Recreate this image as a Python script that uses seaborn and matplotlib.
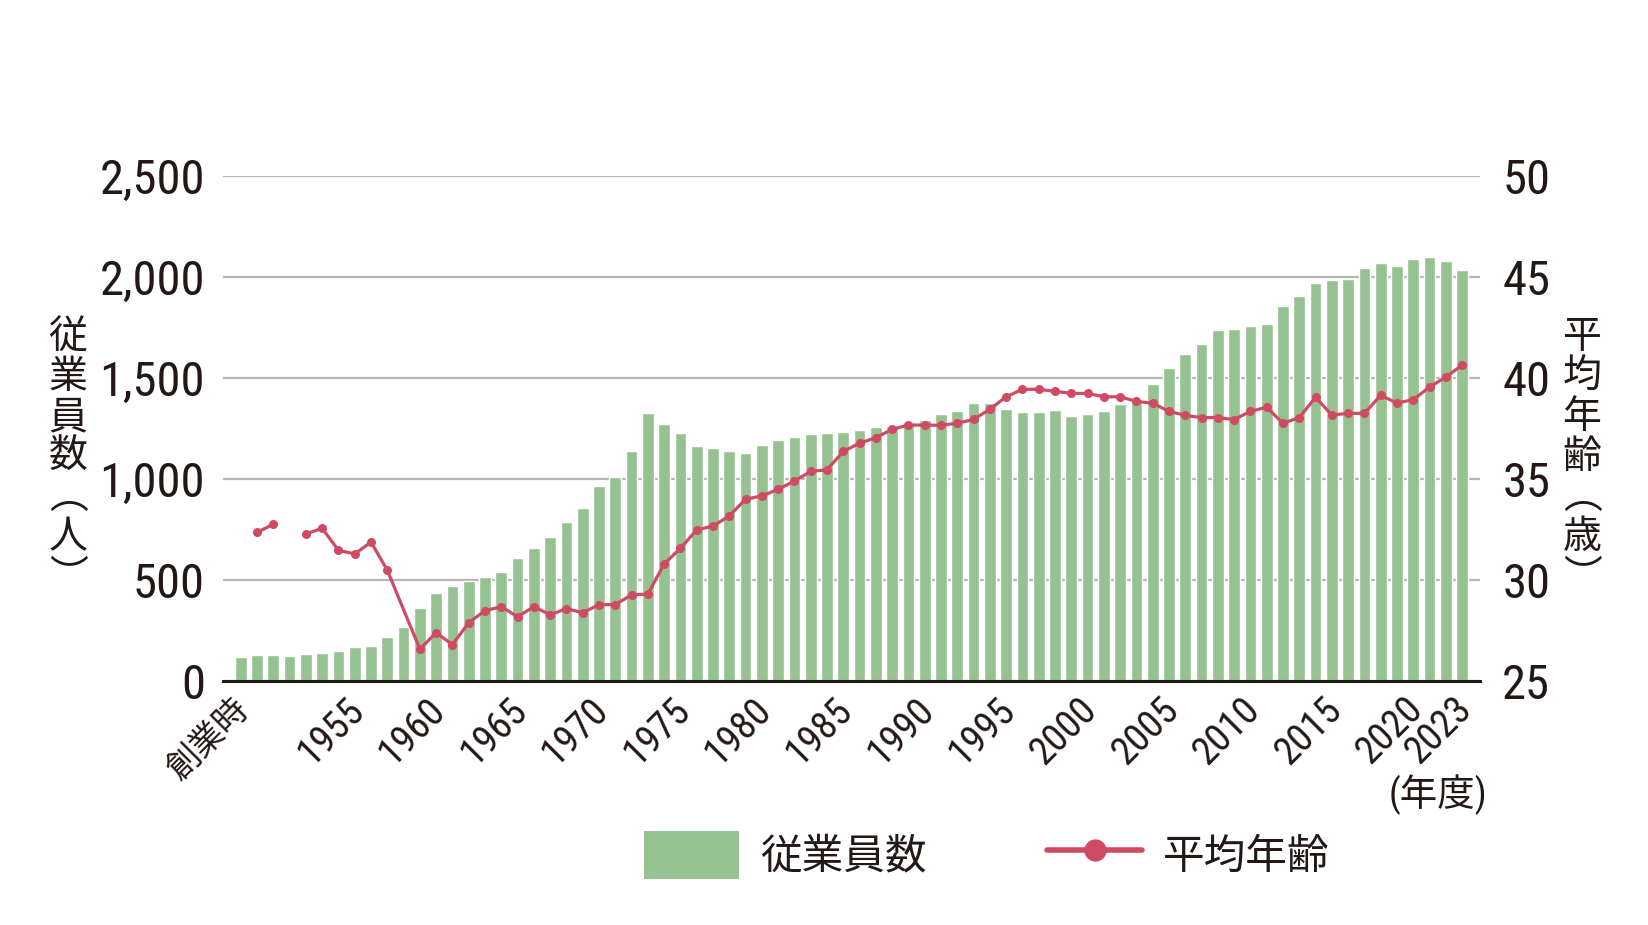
import numpy as np
import pandas as pd
import matplotlib
matplotlib.use("Agg")
import matplotlib.pyplot as plt
import seaborn as sns
from matplotlib import font_manager
from matplotlib.patches import Patch
from matplotlib.lines import Line2D
from matplotlib.ticker import FuncFormatter
from matplotlib.transforms import ScaledTranslation

# --- data ---
categories = ['創業時'] + [str(y) for y in range(1949, 2024)]

employees = [
    120,                                            # 創業時
    127, 127, 122, 135, 139, 147, 168, 173, 219, 269,  # 1949-1958
    363, 436, 470, 495, 516, 541, 610, 657, 713, 786,  # 1959-1968
    858, 966, 1010, 1137, 1328, 1274, 1228, 1165, 1154, 1139,  # 1969-1978
    1127, 1168, 1195, 1208, 1223, 1226, 1231, 1241, 1257, 1264,  # 1979-1988
    1279, 1292, 1322, 1338, 1376, 1376, 1347, 1332, 1332, 1340,  # 1989-1998
    1310, 1322, 1337, 1373, 1386, 1470, 1550, 1617, 1668, 1736,  # 1999-2008
    1741, 1757, 1767, 1856, 1908, 1970, 1984, 1989, 2045, 2069,  # 2009-2018
    2053, 2089, 2099, 2081, 2035,                                # 2019-2023
]

avg_age = [
    np.nan,                                                      # 創業時
    32.36, 32.76, np.nan, 32.28, 32.56, 31.47, 31.29, 31.88, 30.48, np.nan,  # 1949-1958
    26.58, 27.39, 26.80, 27.89, 28.48, 28.68, 28.18, 28.68, 28.28, 28.58,    # 1959-1968
    28.38, 28.78, 28.78, 29.27, 29.30, 30.80, 31.57, 32.48, 32.67, 33.17,    # 1969-1978
    34.00, 34.16, 34.49, 34.90, 35.38, 35.45, 36.37, 36.77, 37.05, 37.46,    # 1979-1988
    37.67, 37.67, 37.66, 37.76, 37.95, 38.45, 39.07, 39.44, 39.44, 39.34,    # 1989-1998
    39.24, 39.24, 39.07, 39.07, 38.84, 38.75, 38.35, 38.15, 38.04, 38.04,    # 1999-2008
    37.94, 38.35, 38.55, 37.76, 38.04, 39.04, 38.17, 38.25, 38.25, 39.14,    # 2009-2018
    38.76, 38.93, 39.55, 40.05, 40.63,                                       # 2019-2023
]

shown_ticks = ['創業時', '1955', '1960', '1965', '1970', '1975', '1980', '1985',
               '1990', '1995', '2000', '2005', '2010', '2015', '2020', '2023']

# the age line is not drawn across this year (it starts a new segment)
line_restart = '1952'

GREEN = '#96c291'
RED = '#cf4a63'
GRID = '#b5b5b5'
INK = '#231815'

# --- fonts: prefer a condensed face for the numbers ---
available = {f.name for f in font_manager.fontManager.ttflist}
condensed = [f for f in ['Roboto Condensed', 'Liberation Sans Narrow', 'Open Sans Condensed',
                         'DejaVu Sans Condensed'] if f in available]
if condensed:
    narrow, ysize, xsize = condensed[0], 35, 28
else:
    narrow, ysize, xsize = 'Roboto', 31, 26
CJK = 'Noto Sans CJK JP'

sns.set_style('white')
plt.rcParams['font.family'] = [narrow, CJK, 'DejaVu Sans']
plt.rcParams['text.color'] = INK

df = pd.DataFrame({'year': categories, 'employees': employees, 'age': avg_age})
df['pos'] = np.arange(len(df))
df['seg'] = (df['pos'] >= categories.index(line_restart)).astype(int)

fig = plt.figure(figsize=(16.48, 9.25), dpi=100)
ax = fig.add_axes([223 / 1648, 1 - 681 / 925, (1480 - 223) / 1648, (681 - 176) / 925])

sns.barplot(data=df, x='year', y='employees', order=categories, color=GREEN,
            saturation=1, width=0.72, ax=ax, zorder=2)

ax2 = ax.twinx()
line_df = df.dropna(subset=['age'])
sns.lineplot(data=line_df, x='pos', y='age', units='seg', estimator=None, sort=False,
             color=RED, lw=2.3, marker='o', markersize=6.5, markeredgewidth=0, ax=ax2)

ax.set_xlim(-1.09, 76.1)
ax.set_ylim(0, 2500)
ax2.set_ylim(25, 50)
ax.set_yticks(range(0, 2501, 500))
ax2.set_yticks(range(25, 51, 5))
ax.yaxis.set_major_formatter(FuncFormatter(lambda v, p: f'{v:,.0f}'))

ax.set_axisbelow(True)
ax.yaxis.grid(True, color=GRID, lw=1.6)
ax.xaxis.grid(False)

for a in (ax, ax2):
    for s in a.spines.values():
        s.set_visible(False)
    a.set_xlabel('')
    a.set_ylabel('')
ax.spines['bottom'].set_visible(True)
ax.spines['bottom'].set_color(INK)
ax.spines['bottom'].set_linewidth(2.2)
ax.spines['bottom'].set_zorder(5)

ax.tick_params(axis='y', length=0, pad=13, labelsize=ysize, labelcolor=INK)
ax2.tick_params(axis='y', length=0, pad=16, labelsize=ysize, labelcolor=INK)

ax.set_xticks([categories.index(t) for t in shown_ticks])
ax.set_xticklabels(shown_ticks)
ax.tick_params(axis='x', length=0, pad=7, labelsize=xsize, labelcolor=INK)
shift = ScaledTranslation(-9 / 100, 0, fig.dpi_scale_trans)
for lab in ax.get_xticklabels():
    lab.set_rotation(45)
    lab.set_ha('right')
    lab.set_va('top')
    lab.set_rotation_mode('anchor')
    lab.set_transform(lab.get_transform() + shift)
    if lab.get_text() == '創業時':
        lab.set_fontsize(24)
        lab.set_family([CJK])

# axis titles, stacked vertically
fig.text(68 / 1648, 1 - 457 / 925, '\n'.join('従業員数︵人︶'), family=[CJK],
         fontsize=28, ha='center', va='center', linespacing=1.0, color=INK)
fig.text(1582 / 1648, 1 - 457 / 925, '\n'.join('平均年齢︵歳︶'), family=[CJK],
         fontsize=28, ha='center', va='center', linespacing=1.0, color=INK)
fig.text(1487 / 1648, 1 - 795 / 925, '(年度)', family=[narrow, CJK],
         fontsize=27, ha='right', va='center', color=INK)

handles = [Patch(facecolor=GREEN, edgecolor='none'),
           Line2D([], [], color=RED, lw=4, marker='o', markersize=16, markeredgewidth=0)]
fig.legend(handles, ['従業員数', '平均年齢'], loc='center', bbox_to_anchor=(987 / 1648, 1 - 855 / 925),
           ncol=2, frameon=False, prop={'family': [CJK], 'size': 30},
           handlelength=2.28, handleheight=1.41, handletextpad=0.5, columnspacing=2.9)

fig.savefig('out.png', dpi=100)
